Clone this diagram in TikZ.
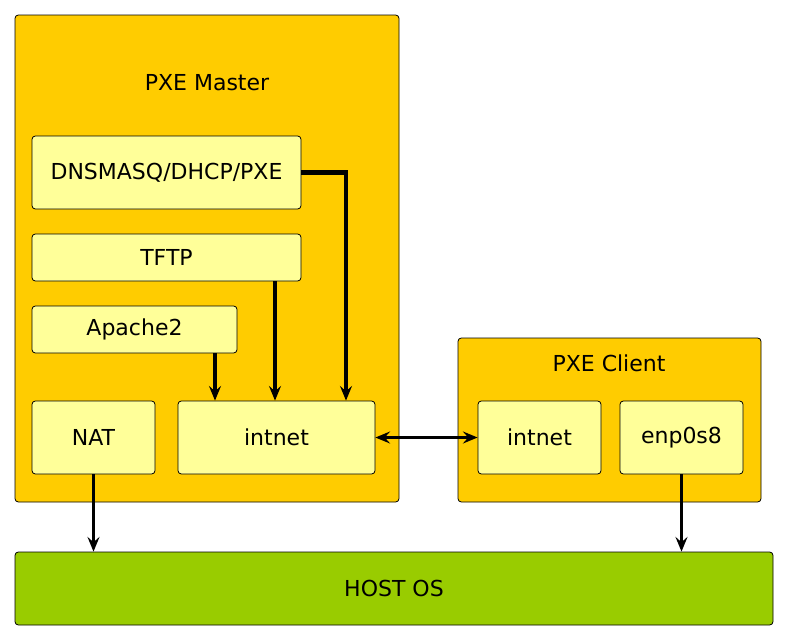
\documentclass[tikz,border=0pt]{standalone}
\usepackage{fontspec}
\setmainfont{DejaVu Sans}
\usetikzlibrary{arrows.meta}

\definecolor{boxorange}{HTML}{FFCC00}
\definecolor{boxyellow}{HTML}{FFFF99}
\definecolor{boxgreen}{HTML}{99CC00}

\begin{document}
\begin{tikzpicture}[x=0.75pt,y=-0.75pt,
  font=\fontsize{16.5}{19}\selectfont,
  outer/.style={draw,rounded corners=2.5pt,fill=boxorange,line width=0.6pt},
  inner/.style={draw,rounded corners=2.5pt,fill=boxyellow,line width=0.6pt},
  link/.style={line width=2.6pt,-{Stealth[length=11pt,width=9pt,inset=4pt]}},
  biglink/.style={link,line width=3.4pt}]
  \useasboundingbox (0,0) rectangle (789,640);

  % machines
  \node (master) [outer,minimum width=288pt,minimum height=365.25pt] at (207,258.5) {};
  \node (client) [outer,minimum width=227.25pt,minimum height=123pt] at (609.5,420) {};
  \node (host) [draw,rounded corners=2.5pt,fill=boxgreen,line width=0.6pt,
    minimum width=568.5pt,minimum height=54.75pt] at (394,588.5) {HOST OS};
  \node (mtitle) at (207,83) {PXE Master};
  \node (ctitle) at (609,363) {PXE Client};

  % services
  \node (dns) [inner,minimum width=201.75pt,minimum height=54.75pt] at (166.5,172.5) {DNSMASQ/DHCP/PXE};
  \node (tftp) [inner,minimum width=201.75pt,minimum height=35.25pt] at (166.5,257.5) {TFTP};
  \node (apache) [inner,minimum width=153.75pt,minimum height=35.25pt] at (134.5,329.5) {Apache2};
  \node (nat) [inner,minimum width=92.25pt,minimum height=54.75pt] at (93.5,437.5) {NAT};
  \node (mnet) [inner,minimum width=147.75pt,minimum height=54.75pt] at (276.5,437.5) {intnet};
  \node (cnet) [inner,minimum width=92.25pt,minimum height=54.75pt] at (539.5,437.5) {intnet};
  \node (enp) [inner,minimum width=92.25pt,minimum height=54.75pt] at (681.5,437.5) {enp0s8};

  \coordinate (dx) at (346,0);
  \coordinate (tx) at (275,0);
  \coordinate (ax) at (215,0);

  \draw[biglink] (dns.east) -| (mnet.north -| dx);
  \draw[biglink] (tftp.south -| tx) -- (mnet.north -| tx);
  \draw[link] (apache.south -| ax) -- (mnet.north -| ax);
  \draw[link,{Stealth[length=11pt,width=9pt,inset=4pt]}-{Stealth[length=11pt,width=9pt,inset=4pt]}] (mnet.east) -- (cnet.west);
  \draw[link] (nat.south) -- (host.north -| nat.south);
  \draw[link] (enp.south) -- (host.north -| enp.south);
\end{tikzpicture}
\end{document}
